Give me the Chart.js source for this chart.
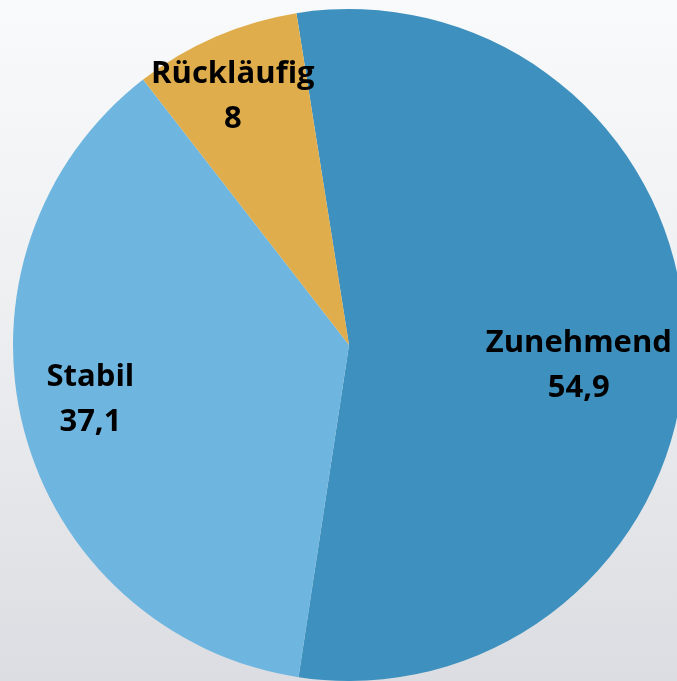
<!DOCTYPE html>
<html>
<head>
<meta charset="utf-8">
<script src="https://cdn.jsdelivr.net/npm/chart.js@4/dist/chart.umd.min.js"></script>
<style>
  html, body { margin: 0; padding: 0; width: 677px; height: 681px; overflow: hidden; }
  body { background: linear-gradient(to bottom, #f9fafb 0%, #eeeff1 45%, #dcdde2 100%); position: relative; }
  #wrap { position: absolute; left: 13px; top: 9px; width: 672px; height: 672px; }
</style>
</head>
<body>
<div id="wrap"><canvas id="c" width="672" height="672"></canvas></div>
<script>
const categories = ["Zunehmend", "Stabil", "Rückläufig"];
const values = [54.9, 37.1, 8];
const valueLabels = ["54,9", "37,1", "8"];
const colors = ["#3e91be", "#6eb6df", "#e0ad4c"];

// label placement: radial fraction and pixel nudges per slice
const labelPlacement = [
  { frac: 0.69, dx: -2, dy: 21 },
  { frac: 0.786, dx: -3, dy: -12 },
  { frac: 0.818, dx: -7, dy: 3 }
];

const labelPlugin = {
  id: 'sliceLabels',
  afterDatasetsDraw(chart) {
    const ctx = chart.ctx;
    const meta = chart.getDatasetMeta(0);
    meta.data.forEach((arc, i) => {
      const p = arc.getProps(['x', 'y', 'startAngle', 'endAngle', 'outerRadius'], true);
      const mid = (p.startAngle + p.endAngle) / 2;
      const pl = labelPlacement[i];
      const x = p.x + Math.cos(mid) * p.outerRadius * pl.frac + pl.dx;
      const y = p.y + Math.sin(mid) * p.outerRadius * pl.frac + pl.dy;
      ctx.save();
      ctx.font = 'bold 31px "Open Sans"';
      ctx.fillStyle = '#000';
      ctx.textAlign = 'center';
      ctx.textBaseline = 'middle';
      ctx.fillText(categories[i], x, y - 22);
      ctx.fillText(valueLabels[i], x, y + 23);
      ctx.restore();
    });
  }
};

new Chart(document.getElementById('c'), {
  type: 'pie',
  data: {
    labels: categories,
    datasets: [{
      data: values,
      backgroundColor: colors,
      borderWidth: 0
    }]
  },
  options: {
    responsive: false,
    devicePixelRatio: 1,
    animation: false,
    rotation: -9,
    layout: { padding: 0 },
    plugins: {
      legend: { display: false },
      tooltip: { enabled: false }
    }
  },
  plugins: [labelPlugin]
});
</script>
</body>
</html>
